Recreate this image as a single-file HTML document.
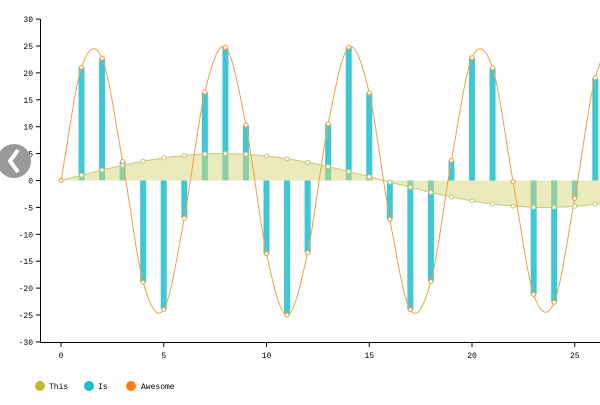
<!DOCTYPE html>
<html><head><meta charset="utf-8"><style>
body{margin:0;background:#fff;width:600px;height:400px;overflow:hidden}
text{font-family:"Liberation Mono",monospace;font-size:8px;fill:#000}
</style></head><body>
<svg id="s" width="600" height="400" xmlns="http://www.w3.org/2000/svg"></svg>
<script>
var s=document.getElementById('s'),h='';
function X(x){return 61+20.55*x}function Y(y){return 180.5-5.38*y}
h+='<defs><clipPath id="c"><rect x="40" y="10" width="560" height="332"/></clipPath></defs>';
h+='<line x1="40.5" y1="19" x2="40.5" y2="342" stroke="#000"/>';
for(var v=-30;v<=30;v+=5){var y=Y(v);h+='<line x1="36" y1="'+y+'" x2="40" y2="'+y+'" stroke="#000"/><text x="33" y="'+(y+3)+'" text-anchor="end">'+v+'</text>';}
h+='<line x1="40" y1="342.5" x2="600" y2="342.5" stroke="#000"/>';
for(var v=0;v<=25;v+=5){var x=X(v);h+='<line x1="'+x+'" y1="343" x2="'+x+'" y2="347" stroke="#000"/><text x="'+x+'" y="358" text-anchor="middle">'+v+'</text>';}
h+='<g clip-path="url(#c)">';
for(var i=0;i<=27;i++){var v=25*Math.sin(i),x=X(i),y=Y(v),y0=Y(0);h+='<rect x="'+(x-3)+'" y="'+Math.min(y,y0)+'" width="6" height="'+Math.abs(y-y0)+'" fill="#3ec8d6"/>';}
var a='M'+X(0)+','+Y(0),l='';
for(var t=0;t<=27;t+=0.1){a+=' L'+X(t)+','+Y(5*Math.sin(t/5));l+=(l?' L':'M')+X(t)+','+Y(5*Math.sin(t/5));}
a+=' L'+X(27)+','+Y(0)+'Z';
// catmull-rom through integer points
var P=[];for(var i=-1;i<=29;i++)P.push(25*Math.sin(i));
var o='M'+X(0)+','+Y(P[1]);
for(var i=0;i<28;i++){var p0=P[i],p1=P[i+1],p2=P[i+2],p3=P[i+3];
 o+=' C'+X(i+1/3)+','+Y(p1+(p2-p0)/6)+' '+X(i+2/3)+','+Y(p2-(p3-p1)/6)+' '+X(i+1)+','+Y(p2);}
h+='<path d="'+a+'" fill="#d8d67a" fill-opacity="0.5"/><path d="'+l+'" fill="none" stroke="#c8c878" stroke-width="1"/>';
h+='<path d="'+o+'" fill="none" stroke="#f0a040" stroke-width="1"/>';
for(var i=0;i<=27;i++){h+='<circle cx="'+X(i)+'" cy="'+Y(5*Math.sin(i/5))+'" r="2" fill="#fff" stroke="#c8c878"/>';h+='<circle cx="'+X(i)+'" cy="'+Y(25*Math.sin(i))+'" r="2" fill="#fff" stroke="#f0a040"/>';}
h+='</g>';
h+='<circle cx="14" cy="161" r="17" fill="#999"/><path d="M18,150 L10,161 L18,172" fill="none" stroke="#fff" stroke-width="4"/>';
h+='<circle cx="40" cy="386" r="5" fill="#bcbd22"/><text x="49" y="389">This</text>';
h+='<circle cx="89" cy="386" r="5" fill="#17becf"/><text x="98" y="389">Is</text>';
h+='<circle cx="131" cy="386" r="5" fill="#ff7f0e"/><text x="141" y="389">Awesome</text>';
s.innerHTML=h;
</script>
</body></html>
